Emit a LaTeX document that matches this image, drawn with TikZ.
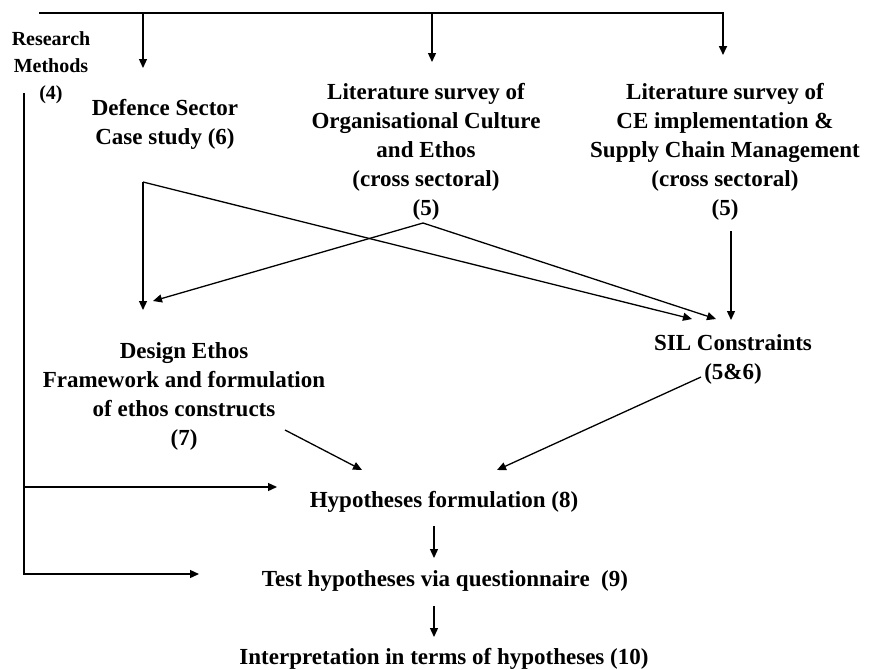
\documentclass[tikz,border=0pt]{standalone}
\usepackage{fontspec}
\setmainfont{Liberation Serif}
\usetikzlibrary{arrows.meta}
\begin{document}
\begin{tikzpicture}[x=0.5pt,y=-0.5pt,
  arr/.style={line width=0.65pt, -{Triangle[length=4.5pt,width=4pt]}},
  lbl/.style={font=\bfseries\fontsize{11.5}{14.5}\selectfont, align=center, inner sep=0pt},
  small/.style={font=\bfseries\fontsize{10}{13.5}\selectfont, align=center, inner sep=0pt}]
\useasboundingbox (0,0) rectangle (872,669);

% text blocks
\node[small] (rm) at (51,68) {Research\\Methods\\(4)};
\node[lbl] (def) at (165,124) {Defence Sector\\Case study (6)};
\node[lbl] (cult) at (426,152) {Literature survey of\\Organisational Culture\\and Ethos\\(cross sectoral)\\(5)};
\node[lbl] (ce) at (725,152) {Literature survey of\\CE implementation \&\\Supply Chain Management\\(cross sectoral)\\(5)};
\node[lbl] (de) at (184,396) {Design Ethos\\Framework and formulation\\of ethos constructs\\(7)};
\node[lbl] (sil) at (733,359) {SIL Constraints\\(5\&6)};
\node[lbl] (hyp) at (444,502) {Hypotheses formulation (8)};
\node[lbl] (test) at (445,581) {Test hypotheses via questionnaire\ \ (9)};
\node[lbl] (interp) at (444,659) {Interpretation in terms of hypotheses (10)};

% connector end points
\coordinate (busL) at (39,13);
\coordinate (busR) at (723,13);
\coordinate (bus1) at (143,13);
\coordinate (bus2) at (432,13);
\coordinate (defIn) at (143,68);
\coordinate (cultIn) at (432,62);
\coordinate (ceIn) at (723,55);

\coordinate (rmTop) at (24,93);
\coordinate (rmMid) at (24,487);
\coordinate (rmBot) at (24,574);
\coordinate (hypL) at (277,487);
\coordinate (testL) at (199,574);

\coordinate (defOut) at (143,182);
\coordinate (deIn1) at (143,310);
\coordinate (deIn2) at (153,301);
\coordinate (cultOut) at (423,223);
\coordinate (silIn1) at (692,319);
\coordinate (silIn2) at (716,319);
\coordinate (ceOut) at (731,231);
\coordinate (silIn3) at (731,320);

\coordinate (deOut) at (285,430);
\coordinate (hypIn1) at (362,470);
\coordinate (silOut) at (701,377);
\coordinate (hypIn2) at (497,470);

\coordinate (hypOut) at (434,526);
\coordinate (testIn) at (434,558);
\coordinate (testOut) at (434,606);
\coordinate (interpIn) at (434,637);

% top distribution bus
\draw[arr, line width=0.85pt] (busL) -- (busR) -- (ceIn);
\draw[arr] (bus1) -- (defIn);
\draw[arr] (bus2) -- (cultIn);

% research methods feed
\draw[arr] (rmTop) -- (rmBot) -- (testL);
\draw[arr] (rmMid) -- (hypL);

% case study and culture survey links
\draw[arr] (defOut) -- (deIn1);
\draw[arr] (defOut) -- (silIn1);
\draw[arr] (cultOut) -- (deIn2);
\draw[arr] (cultOut) -- (silIn2);
\draw[arr] (ceOut) -- (silIn3);

% into hypotheses
\draw[arr] (deOut) -- (hypIn1);
\draw[arr] (silOut) -- (hypIn2);

% main chain
\draw[arr] (hypOut) -- (testIn);
\draw[arr] (testOut) -- (interpIn);
\end{tikzpicture}
\end{document}
